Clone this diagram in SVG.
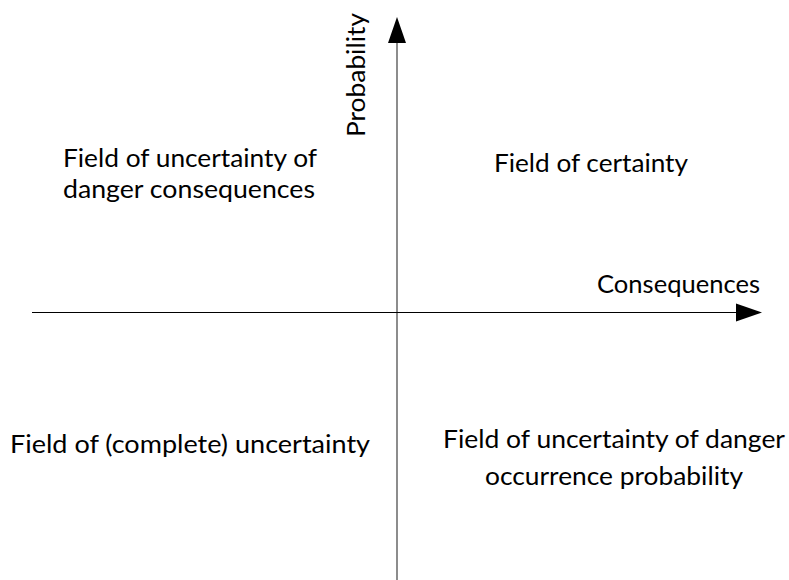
<svg xmlns="http://www.w3.org/2000/svg" width="789" height="580" viewBox="0 0 789 580">
  <style>
    .lbl { font-family: Lato, "Open Sans", "Liberation Sans", sans-serif; font-size: 25px; fill: #000; }
  </style>
  <rect width="789" height="580" fill="#fff"/>

  <g id="connectors">
    <!-- probability axis -->
    <line x1="397" y1="580" x2="397" y2="42" stroke="#808080" stroke-width="1.8"/>
    <path d="M397,17 L406,43 L388,43 Z" fill="#000"/>
    <!-- consequences axis -->
    <line x1="32" y1="312.5" x2="737" y2="312.5" stroke="#000" stroke-width="1.2"/>
    <path d="M762,312.5 L736,303.5 L736,321.5 Z" fill="#000"/>
  </g>

  <g id="axis-probability">
    <text class="lbl" transform="translate(365,137) rotate(-90)" textLength="124" lengthAdjust="spacingAndGlyphs">Probability</text>
  </g>
  <g id="axis-consequences">
    <text class="lbl" x="597" y="293" textLength="163" lengthAdjust="spacingAndGlyphs">Consequences</text>
  </g>

  <g id="field-certainty">
    <text class="lbl" x="494" y="172" textLength="194" lengthAdjust="spacingAndGlyphs">Field of certainty</text>
  </g>
  <g id="field-uncertainty-consequences">
    <text class="lbl" x="63" y="167" textLength="254" lengthAdjust="spacingAndGlyphs">Field of uncertainty of</text>
    <text class="lbl" x="63" y="198" textLength="252" lengthAdjust="spacingAndGlyphs">danger consequences</text>
  </g>
  <g id="field-complete-uncertainty">
    <text class="lbl" x="10" y="453" textLength="360" lengthAdjust="spacingAndGlyphs">Field of (complete) uncertainty</text>
  </g>
  <g id="field-uncertainty-probability">
    <text class="lbl" x="443" y="448" textLength="342" lengthAdjust="spacingAndGlyphs">Field of uncertainty of danger</text>
    <text class="lbl" x="485" y="485" textLength="258" lengthAdjust="spacingAndGlyphs">occurrence probability</text>
  </g>
</svg>
